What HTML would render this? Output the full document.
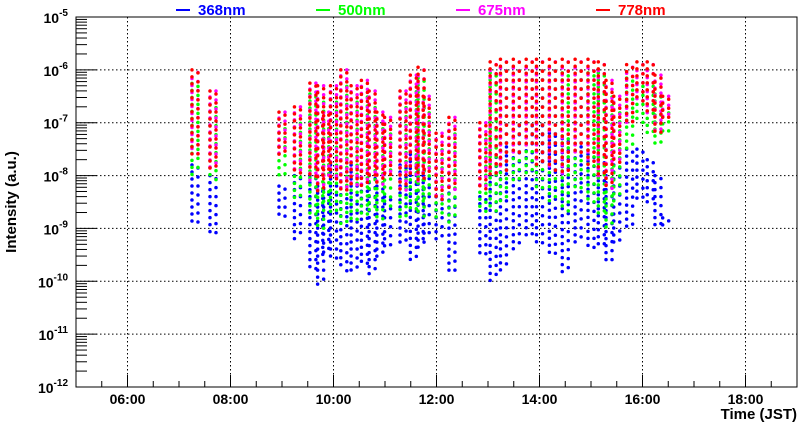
<!DOCTYPE html>
<html><head><meta charset="utf-8">
<style>
html,body{margin:0;padding:0;background:#fff;}
svg{display:block;font-family:"Liberation Sans",Arial,sans-serif;font-weight:bold;}
</style></head>
<body>
<svg id="chart" width="800" height="427" viewBox="0 0 800 427">
  <g id="grid"></g>
  <g id="series"></g>
  <rect x="76" y="17" width="721" height="370" fill="none" stroke="#000" stroke-width="1"/>
  <g id="axes"></g>
  <text x="12" y="202" transform="rotate(-90 12 202)" text-anchor="middle" dominant-baseline="middle" font-size="15">Intensity (a.u.)</text>
  <text x="797" y="419" text-anchor="end" font-size="15">Time (JST)</text>
  <g id="legend"></g>
</svg>
<script>
const times = [7.31,7.66,9.0,9.3,9.6,9.75,9.85,10.0,10.2,10.4,10.6,10.75,10.9,11.05,11.35,11.55,11.7,11.8,12.05,12.3,12.9,13.1,13.3,13.55,13.8,14.0,14.25,14.5,14.75,15.0,15.2,15.35,15.5,15.75,15.95,16.15,16.3,16.45];
const blueHi = [-7.8,-8.0,-8.2,-8.0,-8.0,-8.2,-8.3,-7.8,-7.7,-7.8,-7.9,-8.0,-8.2,-8.4,-7.8,-7.6,-7.5,-8.0,-8.4,-8.2,-8.4,-7.6,-7.4,-7.0,-7.0,-7.0,-7.2,-7.3,-7.4,-7.6,-7.7,-8.0,-7.8,-7.5,-7.5,-7.7,-8.0,-8.8];
const blueLo = [-8.9,-9.1,-8.8,-9.2,-9.8,-10.1,-9.5,-9.6,-9.8,-9.9,-9.7,-9.9,-9.6,-9.4,-9.3,-9.6,-9.4,-9.2,-9.3,-9.8,-9.5,-10.0,-9.8,-9.4,-9.2,-9.3,-9.5,-9.9,-9.3,-9.4,-9.4,-9.6,-9.3,-9.0,-8.5,-8.6,-9.0,-9.0];
const greenHi = [-6.2,-6.6,-7.0,-6.9,-6.4,-6.5,-7.0,-6.5,-6.2,-6.5,-6.4,-6.6,-7.0,-7.1,-6.6,-6.3,-6.1,-6.7,-7.4,-7.1,-7.2,-6.0,-5.9,-5.9,-5.9,-5.9,-5.9,-6.0,-5.9,-6.0,-6.0,-6.4,-6.7,-6.1,-6.2,-6.2,-6.4,-6.7];
const greenLo = [-8.0,-8.1,-8.0,-8.5,-8.8,-9.0,-8.6,-8.8,-9.0,-8.9,-8.8,-8.7,-8.9,-8.6,-8.8,-8.7,-8.8,-8.5,-8.8,-8.9,-8.7,-8.7,-8.5,-8.2,-8.0,-8.3,-8.5,-8.7,-8.3,-8.5,-8.8,-9.0,-8.5,-7.5,-7.0,-7.3,-7.5,-7.2];
const magentaHi = [-6.05,-6.4,-6.8,-6.7,-6.25,-6.3,-6.8,-6.3,-6.0,-6.3,-6.2,-6.4,-6.8,-6.9,-6.4,-6.1,-6.0,-6.5,-7.2,-6.9,-7.0,-5.9,-5.85,-5.85,-5.85,-5.85,-5.85,-5.85,-5.85,-5.85,-5.9,-6.2,-6.5,-5.95,-5.9,-5.9,-6.1,-6.5];
const magentaLo = [-7.6,-7.9,-7.6,-8.0,-8.1,-8.3,-8.0,-8.1,-8.3,-8.2,-8.2,-8.0,-8.2,-8.0,-8.3,-8.0,-8.2,-8.0,-8.5,-8.3,-8.3,-8.0,-7.9,-7.6,-7.5,-7.8,-7.9,-8.0,-7.6,-7.8,-8.1,-8.3,-7.8,-7.0,-6.6,-6.9,-7.2,-6.9];
const redHi = [-6.0,-6.4,-6.8,-6.7,-6.25,-6.3,-6.8,-6.3,-6.0,-6.3,-6.2,-6.4,-6.8,-6.9,-6.4,-6.1,-5.95,-6.5,-7.2,-6.9,-7.0,-5.85,-5.8,-5.8,-5.8,-5.8,-5.8,-5.8,-5.8,-5.8,-5.85,-6.2,-6.5,-5.9,-5.85,-5.85,-6.1,-6.5];
const redLo = [-7.6,-7.9,-7.6,-8.0,-8.1,-8.3,-8.0,-8.1,-8.3,-8.2,-8.2,-8.0,-8.2,-8.0,-8.3,-8.0,-8.2,-8.0,-8.5,-8.3,-8.3,-8.0,-7.9,-7.6,-7.5,-7.8,-7.9,-8.0,-7.6,-7.8,-8.1,-8.3,-7.8,-7.0,-6.6,-6.9,-7.2,-6.9];
const xTicks = ["06:00","08:00","10:00","12:00","14:00","16:00","18:00"];
const xTickHours = [6,8,10,12,14,16,18];
const yDecades = [-5,-6,-7,-8,-9,-10,-11,-12];
const legendLabels = ["368nm","500nm","675nm","778nm"];
const legendColors = ["#0000ff","#00ff00","#ff00ff","#ff0000"];

const NS="http://www.w3.org/2000/svg";
const X0=76,X1=797,Y0=17,Y1=387,TMIN=5,TMAX=19,LMAX=-5,LMIN=-12;
const xs=t=>X0+(t-TMIN)/(TMAX-TMIN)*(X1-X0);
const ys=l=>Y0+(LMAX-l)/(LMAX-LMIN)*(Y1-Y0);
function mk(tag,attrs,parent){const e=document.createElementNS(NS,tag);for(const k in attrs)e.setAttribute(k,attrs[k]);parent.appendChild(e);return e;}
const grid=document.getElementById('grid'),axes=document.getElementById('axes'),ser=document.getElementById('series'),leg=document.getElementById('legend');

xTickHours.forEach((h,i)=>{
  const x=xs(h);
  const g=mk('line',{x1:x,x2:x,y1:Y0,y2:Y1,stroke:'#000','stroke-dasharray':'1.5 2.5','stroke-width':1},grid);
  
  
  const t=mk('text',{x:x,y:404,'text-anchor':'middle','font-size':14},axes);
  t.textContent=xTicks[i];
  
  
});
for(let h=TMIN;h<=TMAX;h+=0.5){
  const x=xs(h);const major=Number.isInteger(h)&&h%2===0;
  const tk=mk('line',{x1:x,x2:x,y1:Y1,y2:Y1-(major?12:6),stroke:'#000'},axes);
  
  
}
yDecades.forEach(d=>{
  const y=ys(d);
  if(d<LMAX&&d>LMIN){
    const g=mk('line',{x1:X0,x2:X1,y1:y,y2:y,stroke:'#000','stroke-dasharray':'1.5 2.5','stroke-width':1},grid);
    
    
  }
  const t=mk('text',{x:68,y:y+6,'text-anchor':'end','font-size':14},axes);
  
  
  t.innerHTML='10<tspan dy="-7" font-size="10">'+d+'</tspan>';
  const tk=mk('line',{x1:X0,x2:X0+21,y1:y,y2:y,stroke:'#000'},axes);
  
  
  if(d>LMIN){for(let m=2;m<=9;m++){const ym=ys(d-1+Math.log10(m));
    const mt=mk('line',{x1:X0,x2:X0+11,y1:ym,y2:ym,stroke:'#000'},axes);
    
    }}
});

function drawSeries(name,color,hi,lo,phase){
  const g=mk('g',{},ser);
  
  
  times.forEach((t,i)=>{
    const y1=ys(hi[i]),y2=ys(lo[i]);
    [-3,3].forEach((off,k)=>{
      const x=xs(t)+off;
      const l=mk('line',{x1:x,x2:x,y1:y1+((k+phase)%3)*3,y2:y2,stroke:color,'stroke-width':3.5,'stroke-linecap':'round','stroke-dasharray':'0 '+(7+2*k)},g);
      
      
    });
  });
}
drawSeries('368nm','#0000ff',blueHi,blueLo,0);
drawSeries('500nm','#00ff00',greenHi,greenLo,1);
drawSeries('675nm','#ff00ff',magentaHi,magentaLo,2);
drawSeries('778nm','#ff0000',redHi,redLo,0);

legendLabels.forEach((lab,i)=>{
  const x=176+i*140;
  const l=mk('line',{x1:x,x2:x+14,y1:10,y2:10,stroke:legendColors[i],'stroke-width':2},leg);
  
  
  const t=mk('text',{x:x+22,y:15,'font-size':15,fill:legendColors[i]},leg);
  t.textContent=lab;
  
  
});
</script>
</body></html>
